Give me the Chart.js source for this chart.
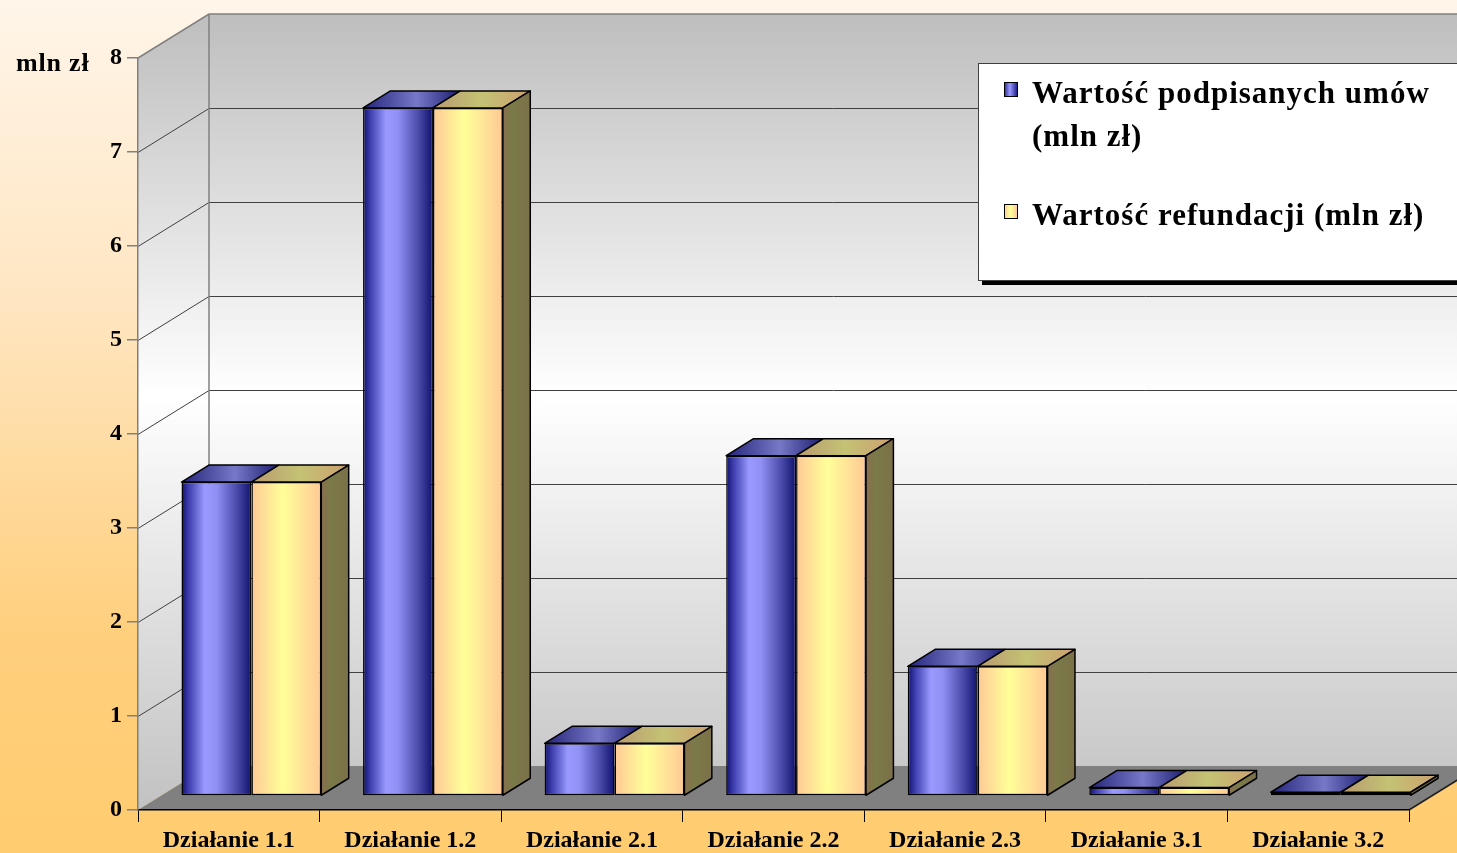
<!DOCTYPE html>
<html>
<head>
<meta charset="utf-8">
<script src="https://cdn.jsdelivr.net/npm/chart.js@4.4.1/dist/chart.umd.min.js"></script>
<style>
  html, body { margin: 0; padding: 0; overflow: hidden; background: #ffcc70; }
  canvas { display: block; }
</style>
</head>
<body>
<canvas id="chart" width="1457" height="853"></canvas>
<script>
// --- dane ---------------------------------------------------------
const categories = ['Działanie 1.1', 'Działanie 1.2', 'Działanie 2.1', 'Działanie 2.2',
                    'Działanie 2.3', 'Działanie 3.1', 'Działanie 3.2'];
const umowy      = [3.34, 7.32, 0.56, 3.62, 1.38, 0.09, 0.04];
const refundacje = [3.34, 7.32, 0.56, 3.62, 1.38, 0.09, 0.04];
const seriesNames = ['Wartość podpisanych umów (mln zł)', 'Wartość refundacji (mln zł)'];
const yTicks = [0, 1, 2, 3, 4, 5, 6, 7, 8];
const unitLabel = 'mln zł';

// --- wygląd 3D ----------------------------------------------------
const FONT = "'Liberation Serif', 'Times New Roman', serif";
const WALL = { x: 71, y: 44 };        // głębokość ścian
const SHIFT = { x: 22.6, y: 14 };     // przesunięcie słupków w głąb
const DEPTH = { x: 27.4, y: 17 };     // głębokość słupka
const CAT_PCT = 0.77;

const FRONT_STOPS = [
  [[0, '#10106e'], [0.1, '#3c3cac'], [0.33, '#9999ff'], [0.5, '#9090f4'], [0.8, '#4848a8'], [1, '#10106e']],
  [[0, '#ffc996'], [0.45, '#ffff99'], [1, '#ffc996']]
];
const TOP_STOPS = [
  [[0, '#24247a'], [0.55, '#7878c8'], [1, '#1c1c70']],
  [[0, '#b89a70'], [0.5, '#c4c274'], [1, '#cca070']]
];
const SIDE_STOPS = [[0, '#88704e'], [0.35, '#7a7a48'], [1, '#7c7048']];

function grad(ctx, x1, y1, x2, y2, stops) {
  const g = ctx.createLinearGradient(x1, y1, x2, y2);
  stops.forEach(s => g.addColorStop(s[0], s[1]));
  return g;
}

function poly(ctx, pts) {
  ctx.beginPath();
  ctx.moveTo(pts[0][0], pts[0][1]);
  for (let i = 1; i < pts.length; i++) ctx.lineTo(pts[i][0], pts[i][1]);
  ctx.closePath();
}

// gradient przedniej ściany słupka
function frontFill(c) {
  const chart = c.chart;
  const stops = FRONT_STOPS[c.datasetIndex];
  const xs = chart.scales.x;
  if (c.type !== 'data' || !xs || !chart.chartArea) return stops[2][1];
  const n = chart.data.datasets.length;
  const step = xs.getPixelForValue(1) - xs.getPixelForValue(0);
  const bw = step * CAT_PCT / n;
  const left = xs.getPixelForValue(c.dataIndex) - bw * n / 2 + bw * c.datasetIndex;
  return grad(chart.ctx, left, 0, left + bw, 0, stops);
}

const barStyle = {
  backgroundColor: frontFill,
  borderColor: '#000',
  borderWidth: 1.5,
  borderSkipped: false,
  barPercentage: 1,
  categoryPercentage: CAT_PCT
};

const box3d = {
  id: 'box3d',
  beforeDraw(chart) {
    const { ctx, chartArea: a, scales: { y } } = chart;
    const W = chart.width, H = chart.height;
    const L = a.left, R = a.right, dx = WALL.x, dy = WALL.y;
    const y0 = y.getPixelForValue(yTicks[0]);
    const yt = y.getPixelForValue(yTicks[yTicks.length - 1]);
    ctx.save();
    ctx.fillStyle = grad(ctx, 0, 0, 0, H, [[0, '#fff5e9'], [0.35, '#ffe6c2'], [0.75, '#ffcf7c'], [1, '#ffcc70']]);
    ctx.fillRect(0, 0, W, H);

    const wall = grad(ctx, 0, yt - dy, 0, y0, [[0, '#bebebe'], [0.48, '#ffffff'], [1, '#c2c2c2']]);
    ctx.fillStyle = wall;
    ctx.fillRect(L + dx, yt - dy, W, y0 - yt);
    poly(ctx, [[L, yt], [L + dx, yt - dy], [L + dx, y0 - dy], [L, y0]]);
    ctx.fill();

    // linie siatki
    ctx.strokeStyle = '#404040';
    ctx.lineWidth = 1;
    yTicks.slice(1, -1).forEach(v => {
      const py = Math.round(y.getPixelForValue(v)) + 0.5;
      ctx.beginPath();
      ctx.moveTo(L, py);
      ctx.lineTo(L + dx, py - dy);
      ctx.lineTo(W + 10, py - dy);
      ctx.stroke();
    });

    // krawędzie ścian
    ctx.strokeStyle = '#808080';
    ctx.lineWidth = 1.5;
    ctx.beginPath();
    ctx.moveTo(L, yt);
    ctx.lineTo(L + dx, yt - dy);
    ctx.lineTo(W + 10, yt - dy);
    ctx.moveTo(L + dx, yt - dy);
    ctx.lineTo(L + dx, y0 - dy);
    ctx.stroke();

    // podłoga
    poly(ctx, [[L, y0], [R, y0], [R + dx, y0 - dy], [L + dx, y0 - dy]]);
    ctx.fillStyle = '#808080';
    ctx.fill();
    ctx.strokeStyle = '#202020';
    ctx.beginPath();
    ctx.moveTo(R, y0);
    ctx.lineTo(R + dx, y0 - dy);
    ctx.stroke();
    ctx.restore();
  },
  beforeDatasetsDraw(chart) {
    chart.ctx.save();
    chart.ctx.translate(SHIFT.x, -SHIFT.y);
  },
  afterDatasetsDraw(chart) {
    const ctx = chart.ctx;
    ctx.restore();
    ctx.save();
    ctx.lineWidth = 1.5;
    ctx.strokeStyle = '#000';
    ctx.lineJoin = 'round';
    const last = chart.data.datasets.length - 1;
    chart.data.datasets.forEach((ds, di) => {
      chart.getDatasetMeta(di).data.forEach(bar => {
        const p = bar.getProps(['x', 'y', 'base', 'width'], true);
        const l = p.x - p.width / 2 + SHIFT.x, r = l + p.width;
        const t = p.y - SHIFT.y, b = p.base - SHIFT.y;
        poly(ctx, [[l, t], [r, t], [r + DEPTH.x, t - DEPTH.y], [l + DEPTH.x, t - DEPTH.y]]);
        ctx.fillStyle = grad(ctx, l, 0, r + DEPTH.x, 0, TOP_STOPS[di]);
        ctx.fill();
        ctx.stroke();
        if (di === last) {
          poly(ctx, [[r, t], [r + DEPTH.x, t - DEPTH.y], [r + DEPTH.x, b - DEPTH.y], [r, b]]);
          ctx.fillStyle = grad(ctx, r, 0, r + DEPTH.x, 0, SIDE_STOPS);
          ctx.fill();
          ctx.stroke();
        }
      });
    });
    ctx.restore();
  },
  afterDraw(chart) {
    const ctx = chart.ctx;
    ctx.save();
    ctx.fillStyle = '#000';
    ctx.textBaseline = 'alphabetic';
    ctx.font = 'bold 26px ' + FONT;
    ctx.letterSpacing = '0.8px';
    ctx.fillText(unitLabel, 16, 71);

    // legenda
    const bx = 978, by = 63, bh = 217;
    ctx.fillRect(bx + 4, by + bh, 600, 5);
    ctx.fillStyle = '#fff';
    ctx.fillRect(bx, by, 600, bh);
    ctx.strokeStyle = '#404040';
    ctx.lineWidth = 1;
    ctx.strokeRect(bx + 0.5, by + 0.5, 600, bh);

    ctx.font = 'bold 31px ' + FONT;
    ctx.letterSpacing = '1px';
    const baselines = [103, 225];
    const lineH = 43, maxW = 418;
    seriesNames.forEach((name, i) => {
      const words = name.split(' ');
      const lines = [];
      let cur = '';
      words.forEach(w => {
        const test = cur ? cur + ' ' + w : w;
        if (cur && ctx.measureText(test).width > maxW) { lines.push(cur); cur = w; }
        else cur = test;
      });
      lines.push(cur);
      const base = baselines[i];
      const sq = [1004, base - 21, 13, 14];
      ctx.fillStyle = grad(ctx, sq[0], 0, sq[0] + sq[2], 0,
        i === 0 ? [[0, '#20208a'], [0.45, '#9999ff'], [1, '#20208a']]
                : [[0, '#ffcc99'], [0.5, '#ffff99'], [1, '#ffcc99']]);
      ctx.fillRect(sq[0], sq[1], sq[2], sq[3]);
      ctx.strokeStyle = '#000';
      ctx.strokeRect(sq[0] + 0.5, sq[1] + 0.5, sq[2], sq[3]);
      ctx.fillStyle = '#000';
      lines.forEach((ln, k) => ctx.fillText(ln, 1032, base + k * lineH));
    });
    ctx.restore();
  }
};

new Chart(document.getElementById('chart'), {
  type: 'bar',
  data: {
    labels: categories,
    datasets: [
      Object.assign({ label: seriesNames[0], data: umowy }, barStyle),
      Object.assign({ label: seriesNames[1], data: refundacje }, barStyle)
    ]
  },
  options: {
    responsive: false,
    animation: false,
    events: [],
    layout: { padding: { top: 58, right: 48, left: 0, bottom: 0 } },
    plugins: { legend: { display: false }, tooltip: { enabled: false }, colors: { enabled: false } },
    scales: {
      x: {
        grid: { drawOnChartArea: false, tickLength: 12, color: '#000', lineWidth: 1 },
        border: { color: '#000', width: 1.5 },
        ticks: { color: '#000', padding: 4, font: { family: FONT, size: 24, weight: 'bold' } },
        afterFit(s) { s.height = 43; }
      },
      y: {
        min: yTicks[0],
        max: yTicks[yTicks.length - 1],
        afterBuildTicks(s) { s.ticks = yTicks.map(v => ({ value: v })); },
        grid: { drawOnChartArea: false, tickLength: 11, color: '#808080', lineWidth: 1.5 },
        border: { color: '#808080', width: 1.5 },
        ticks: { color: '#000', padding: 5, font: { family: FONT, size: 24, weight: 'bold' } },
        afterFit(s) { s.width = 138; }
      }
    }
  },
  plugins: [box3d]
});
</script>
</body>
</html>
